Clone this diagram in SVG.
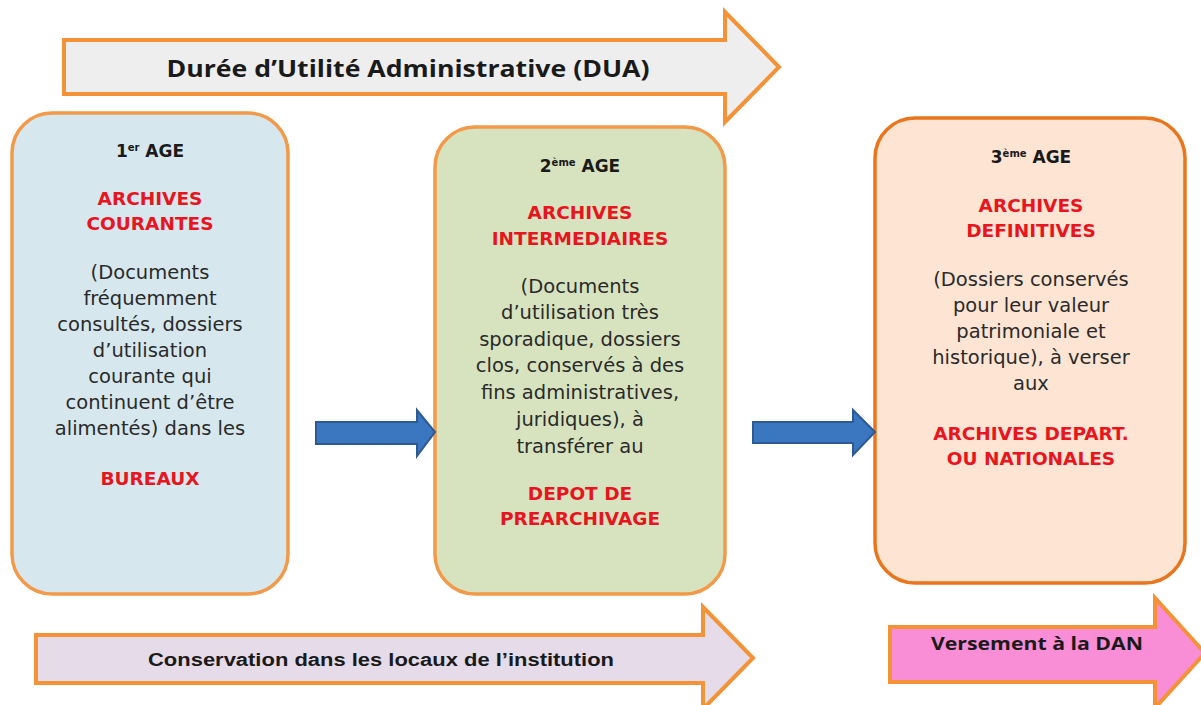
<svg xmlns="http://www.w3.org/2000/svg" width="1201" height="705" viewBox="0 0 1201 705">
<style>
.bar{stroke:#f39237;stroke-width:4;stroke-linejoin:miter}
.box{stroke-width:3.5}
.blue{fill:#3b76c0;stroke:#2d5a92;stroke-width:2}
.t{font-family:"DejaVu Sans","Open Sans",sans-serif;text-anchor:middle}
.age{font-size:17px;font-weight:700;fill:#1a1a1a}
.red{font-size:18.5px;font-weight:700;fill:#e8141e}
.body{font-size:19.5px;fill:#2a2a2a}
.sup{font-size:10px}
.lbl{font-family:"Liberation Sans",Arial,sans-serif;font-weight:700;fill:#1a1a1a;text-anchor:middle}
.ttl{font-family:"Open Sans","DejaVu Sans",sans-serif;text-anchor:middle;font-weight:700;fill:#1a1a1a}
</style>
<rect width="1201" height="705" fill="#ffffff"/>
<g id="dua">
<polygon class="bar" fill="#eeeeee" points="64,40 725,40 725,12 779,67 725,122 725,94 64,94"/>
<text class="ttl" x="408" y="77" font-size="23" textLength="483" lengthAdjust="spacingAndGlyphs">Durée d’Utilité Administrative (DUA)</text>
</g>
<g id="age1">
<rect class="box" x="12" y="113" width="276" height="481" rx="40" fill="#d6e8ee" stroke="#f2994a"/>
<text class="t age" x="150" y="157">1<tspan class="sup" dy="-6">er</tspan><tspan dy="6"> AGE</tspan></text>
<text class="t red" x="150" y="205">ARCHIVES</text>
<text class="t red" x="150" y="230">COURANTES</text>
<text class="t body" x="150" y="279">(Documents</text>
<text class="t body" x="150" y="305">fréquemment</text>
<text class="t body" x="150" y="331">consultés, dossiers</text>
<text class="t body" x="150" y="357">d’utilisation</text>
<text class="t body" x="150" y="383">courante qui</text>
<text class="t body" x="150" y="409">continuent d’être</text>
<text class="t body" x="150" y="435">alimentés) dans les</text>
<text class="t red" x="150" y="485">BUREAUX</text>
</g>
<g id="age2">
<rect class="box" x="435" y="127" width="290" height="467" rx="40" fill="#d7e3bf" stroke="#f2994a"/>
<text class="t age" x="580" y="172">2<tspan class="sup" dy="-6">ème</tspan><tspan dy="6"> AGE</tspan></text>
<text class="t red" x="580" y="219">ARCHIVES</text>
<text class="t red" x="580" y="245">INTERMEDIAIRES</text>
<text class="t body" x="580" y="293">(Documents</text>
<text class="t body" x="580" y="319">d’utilisation très</text>
<text class="t body" x="580" y="346">sporadique, dossiers</text>
<text class="t body" x="580" y="372">clos, conservés à des</text>
<text class="t body" x="580" y="399">fins administratives,</text>
<text class="t body" x="580" y="426">juridiques), à</text>
<text class="t body" x="580" y="453">transférer au</text>
<text class="t red" x="580" y="500">DEPOT DE</text>
<text class="t red" x="580" y="525">PREARCHIVAGE</text>
</g>
<g id="age3">
<rect class="box" x="875" y="118" width="310" height="465" rx="40" fill="#fde4d3" stroke="#e8761e"/>
<text class="t age" x="1031" y="163">3<tspan class="sup" dy="-6">ème</tspan><tspan dy="6"> AGE</tspan></text>
<text class="t red" x="1031" y="212">ARCHIVES</text>
<text class="t red" x="1031" y="237">DEFINITIVES</text>
<text class="t body" x="1031" y="286">(Dossiers conservés</text>
<text class="t body" x="1031" y="312">pour leur valeur</text>
<text class="t body" x="1031" y="338">patrimoniale et</text>
<text class="t body" x="1031" y="364">historique), à verser</text>
<text class="t body" x="1031" y="390">aux</text>
<text class="t red" x="1031" y="440">ARCHIVES DEPART.</text>
<text class="t red" x="1031" y="465">OU NATIONALES</text>
</g>
<g id="conservation">
<polygon class="bar" fill="#e5dbe9" points="36,635 703,635 703,607 753,658 703,709 703,683 36,683"/>
<text class="lbl" x="381" y="666" font-size="18" textLength="466" lengthAdjust="spacingAndGlyphs">Conservation dans les locaux de l’institution</text>
</g>
<g id="versement">
<polygon class="bar" fill="#f98dd6" points="890,627 1155,627 1155,598 1205,653 1155,708 1155,682 890,682"/>
<text class="ttl" x="1037" y="650" font-size="17" textLength="212" lengthAdjust="spacingAndGlyphs">Versement à la DAN</text>
</g>
<g id="connectors">
<polygon class="blue" points="316,422 417,422 417,410 435,432 417,456 417,444 316,444"/>
<polygon class="blue" points="753,422 853,422 853,410 875,432 853,455 853,443 753,443"/>
</g>
</svg>
